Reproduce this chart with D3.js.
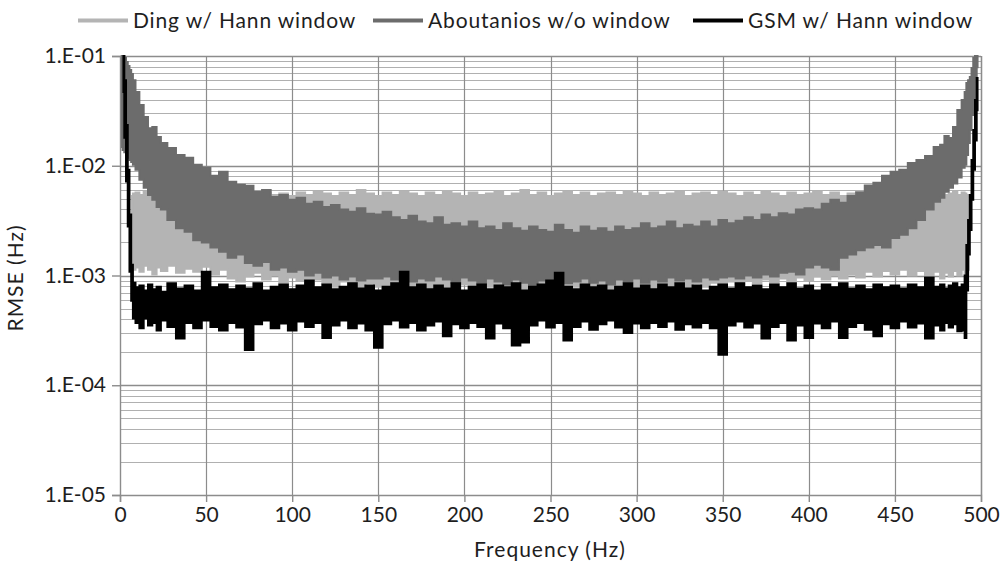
<!DOCTYPE html>
<html>
<head>
<meta charset="utf-8">
<script src="https://cdnjs.cloudflare.com/ajax/libs/d3/7.8.5/d3.min.js"></script>
<style>
body { margin: 0; background: #fff; }
svg { display: block; font-family: Lato, "Open Sans", sans-serif; }
</style>
</head>
<body>
<svg></svg>
<script>
// frequency grid (Hz), finer near the two ends
const freq = [1,2,3,4,5,6,7,8,10,12.5,
  15,17.5,20,22.5,25,30,35,40,45,50,
  55,60,65,70,75,80,85,90,95,100,
  105,110,115,120,125,130,135,140,145,150,
  155,160,165,170,175,180,185,190,195,200,
  205,210,215,220,225,230,235,240,245,250,
  255,260,265,270,275,280,285,290,295,300,
  305,310,315,320,325,330,335,340,345,350,
  355,360,365,370,375,380,385,390,395,400,
  405,410,415,420,425,430,435,440,445,450,
  455,460,465,470,475,477.5,480,482.5,485,487.5,
  490,491,492,493,494,495,496,497,498,499];

// Ding w/ Hann window : upper / lower edge of the band (RMSE, Hz)
const dingHi = [null,null,null,null,null,null,0.0053,0.0056,0.0057,0.0054,
  0.0058,0.0053,0.0056,0.0057,0.0052,0.0056,0.0054,0.0058,0.0053,0.0056,
  0.0057,0.0054,0.0052,0.0056,0.0058,0.0053,0.0057,0.0054,0.0056,0.0053,
  0.0057,0.0054,0.0058,0.0056,0.0053,0.0057,0.0054,0.0060,0.0056,0.0053,
  0.0057,0.0054,0.0058,0.0056,0.0053,0.0057,0.0054,0.0059,0.0056,0.0053,
  0.0057,0.0054,0.0056,0.0058,0.0053,0.0056,0.0060,0.0054,0.0057,0.0053,
  0.0056,0.0058,0.0054,0.0057,0.0053,0.0056,0.0057,0.0054,0.0059,0.0056,
  0.0053,0.0057,0.0054,0.0056,0.0058,0.0053,0.0056,0.0057,0.0054,0.0058,
  0.0056,0.0053,0.0057,0.0054,0.0059,0.0056,0.0053,0.0057,0.0054,0.0056,
  0.0058,0.0054,0.0057,0.0053,0.0056,0.0058,0.0054,0.0057,0.0056,0.0053,
  0.0057,0.0054,0.0058,0.0056,0.0053,0.0057,0.0054,0.0056,0.0058,0.0054,
  0.0057,0.0056,0.0053,0.0054,null,null,null,null,null,null];
const dingLo = [null,null,null,null,null,null,0.00125,0.00113,0.00118,0.00108,
  0.00123,0.00113,0.00102,0.00118,0.0011,0.00123,0.00106,0.00115,0.00108,0.0012,
  0.00102,0.00113,0.00094,0.00088,0.00098,0.00106,0.00092,0.0010,0.00086,0.00096,
  0.0009,0.00083,0.00092,0.00085,0.00079,0.00088,0.00081,0.00076,0.00085,0.00079,
  0.00075,0.00083,0.00078,0.00073,0.00081,0.00076,0.00071,0.00079,0.00075,0.00083,
  0.00076,0.00071,0.00079,0.00075,0.0007,0.00078,0.00073,0.00081,0.00075,0.0007,
  0.00078,0.00073,0.00079,0.00075,0.0007,0.00078,0.00073,0.00081,0.00076,0.00071,
  0.00079,0.00075,0.00081,0.00076,0.00083,0.00078,0.00085,0.00079,0.00086,0.00081,
  0.00088,0.00083,0.0009,0.00085,0.00092,0.00086,0.00094,0.00088,0.00096,0.0009,
  0.00098,0.00092,0.0010,0.00094,0.00102,0.00096,0.00108,0.00098,0.0011,0.00102,
  0.00113,0.0010,0.0011,0.00098,0.00108,0.00094,0.00106,0.00098,0.0011,0.0010,
  0.00113,0.00102,0.00108,0.00113,null,null,null,null,null,null];

// Aboutanios w/o window
const abouHi = [0.1,0.1,0.096,0.088,0.081,0.0745,0.0685,0.060,0.047,0.0357,
  0.0278,0.022,0.0225,0.0183,0.0161,0.0145,0.0125,0.0118,0.0102,0.0096,
  0.0081,0.0088,0.00715,0.0067,0.00657,0.0058,0.0060,0.0052,0.0054,0.0049,
  0.0051,0.0045,0.0047,0.0042,0.0044,0.0040,0.0038,0.0041,0.00365,0.0036,
  0.0038,0.0034,0.0032,0.0035,0.0031,0.0030,0.0034,0.0029,0.0030,0.0028,
  0.0031,0.0027,0.0028,0.0026,0.0030,0.0027,0.00256,0.0028,0.0026,0.0025,
  0.0029,0.0026,0.00245,0.0028,0.00256,0.0027,0.0025,0.0028,0.0026,0.0027,
  0.0030,0.0027,0.0028,0.0031,0.0027,0.0029,0.0028,0.0031,0.0028,0.0032,
  0.0030,0.00315,0.0034,0.0032,0.0036,0.0034,0.0037,0.0036,0.0040,0.0041,
  0.0040,0.0045,0.0049,0.0046,0.0053,0.0057,0.0066,0.0070,0.0081,0.0088,
  0.0092,0.0106,0.0113,0.0123,0.0148,0.0155,0.0187,0.0179,0.0225,0.0322,
  0.0397,0.047,0.0567,0.060,0.0643,0.0777,0.096,0.1,0.1,null];
const abouLo = [0.0148,0.0139,0.0133,0.0125,0.0118,0.0113,0.0108,0.0102,0.0092,0.00745,
  0.0063,0.0054,0.0049,0.0042,0.0040,0.0032,0.0027,0.0025,0.0021,0.0020,
  0.0018,0.00165,0.00145,0.00155,0.0013,0.00123,0.00133,0.00113,0.00118,0.00108,
  0.00113,0.0010,0.00106,0.00096,0.0010,0.00092,0.00098,0.0009,0.00094,0.00094,
  0.00098,0.00092,0.00096,0.00088,0.00094,0.0009,0.00098,0.00092,0.00086,0.00096,
  0.0009,0.00085,0.00094,0.00088,0.00083,0.00092,0.00086,0.00081,0.0009,0.00086,
  0.00092,0.00085,0.00088,0.00094,0.00086,0.0009,0.00083,0.00092,0.00088,0.00094,
  0.00086,0.00092,0.00088,0.00096,0.0009,0.00094,0.00088,0.00096,0.00092,0.00096,
  0.00098,0.00094,0.0010,0.00096,0.00102,0.00098,0.00106,0.00108,0.00102,0.00118,
  0.00125,0.00118,0.00113,0.00145,0.00155,0.0017,0.0018,0.0019,0.0018,0.0022,
  0.00235,0.0027,0.0032,0.0040,0.0047,0.0051,0.0058,0.0063,0.0069,0.0078,
  0.0096,0.0102,0.0125,0.0161,0.0212,0.029,0.0397,0.058,0.079,null];

// GSM w/ Hann window
const gsmHi = [null,0.1,0.060,0.0235,0.0092,0.0036,0.00125,0.00086,0.00078,0.00081,
  0.00073,0.00083,0.00075,0.00079,0.00071,0.00085,0.00076,0.00081,0.00073,0.00108,
  0.00078,0.00083,0.00075,0.00081,0.00076,0.00085,0.00073,0.00079,0.00083,0.00075,
  0.00081,0.0009,0.00078,0.00083,0.00075,0.00079,0.00085,0.00076,0.00081,0.00073,
  0.00079,0.00085,0.00108,0.00078,0.00083,0.00075,0.00081,0.00076,0.00085,0.00073,
  0.00079,0.00083,0.00075,0.00081,0.00078,0.00085,0.00073,0.00079,0.00083,0.0009,
  0.00106,0.00079,0.00075,0.00083,0.00078,0.00081,0.00073,0.00079,0.00085,0.00076,
  0.00081,0.00075,0.00083,0.00078,0.00085,0.00076,0.00081,0.00073,0.00079,0.00083,
  0.00076,0.00085,0.00078,0.00081,0.00075,0.00083,0.00078,0.00085,0.00076,0.00081,
  0.00073,0.00083,0.00078,0.00085,0.00076,0.00081,0.00075,0.00083,0.00078,0.00081,
  0.00076,0.00083,0.00078,0.00096,0.00079,0.00083,0.00076,0.00081,0.00085,0.00078,
  0.00083,0.0010,0.0019,0.0032,0.0054,0.0113,0.0212,0.0397,0.063,null];
const gsmLo = [null,0.047,0.018,0.0072,0.0028,0.00108,0.00059,0.000405,0.00037,0.00033,
  0.000405,0.00035,0.00037,0.000315,0.00039,0.00034,0.000266,0.00037,0.00033,0.00039,
  0.00034,0.000315,0.00037,0.000336,0.00021,0.00036,0.00039,0.00033,0.000365,0.000315,
  0.00038,0.00034,0.00037,0.00027,0.00035,0.00039,0.00033,0.000365,0.000315,0.00022,
  0.00036,0.00039,0.000336,0.00037,0.000315,0.00035,0.00038,0.00028,0.00036,0.00033,
  0.00037,0.00034,0.000266,0.000365,0.00033,0.00023,0.000245,0.00035,0.00039,0.000336,
  0.00037,0.000256,0.00034,0.00038,0.00032,0.00036,0.00039,0.000336,0.0003,0.000365,
  0.00033,0.00037,0.00034,0.00038,0.00032,0.00036,0.000336,0.00037,0.00033,0.00019,
  0.00035,0.00038,0.000336,0.000365,0.000266,0.00034,0.00037,0.000256,0.00035,0.00027,
  0.000365,0.00033,0.00038,0.00027,0.00034,0.00037,0.00032,0.00028,0.00036,0.00033,
  0.00038,0.000336,0.000365,0.000266,0.00035,0.000315,0.00037,0.000336,0.00036,0.00031,
  0.000315,0.00027,0.00073,0.00155,0.0026,0.0049,0.0092,0.017,0.032,null];

const seriesNames = ["Ding w/ Hann window", "Aboutanios w/o window", "GSM w/ Hann window"];
const seriesColors = ["#b4b4b4", "#6c6c6c", "#000000"];
const xTicks = [0,50,100,150,200,250,300,350,400,450,500];
const yTicks = [1e-1,1e-2,1e-3,1e-4,1e-5];
const yTickLabels = ["1.E-01","1.E-02","1.E-03","1.E-04","1.E-05"];

const width = 1002, height = 567;
const svg = d3.select("svg").attr("width", width).attr("height", height);

const x = d3.scaleLinear().domain([0, 500]).range([120, 981]);
const y = d3.scaleLog().domain([1e-5, 1e-1]).range([495, 56]);

// minor log grid (2..9 of each decade)
let minor = [];
yTicks.slice(1).forEach(d => { for (let m = 2; m <= 9; m++) minor.push(d * m); });

let grid = svg.append("g");
grid.selectAll("line.minor").data(minor).enter().append("line")
    .attr("x1", 120).attr("x2", 981)
    .attr("y1", d => Math.round(y(d)) + 0.5).attr("y2", d => Math.round(y(d)) + 0.5)
    .attr("stroke", "#b0b0b0").attr("stroke-width", 1.2);
grid.selectAll("line.vert").data(xTicks.slice(1)).enter().append("line")
    .attr("x1", d => Math.round(x(d)) + 0.5).attr("x2", d => Math.round(x(d)) + 0.5)
    .attr("y1", 56).attr("y2", 495)
    .attr("stroke", "#8c8c8c").attr("stroke-width", 1.2);
grid.selectAll("line.major").data(yTicks.slice(0, 4)).enter().append("line")
    .attr("x1", 120).attr("x2", 981)
    .attr("y1", d => Math.round(y(d)) + 0.5).attr("y2", d => Math.round(y(d)) + 0.5)
    .attr("stroke", "#8c8c8c").attr("stroke-width", 1.4);

// series bands
const bands = [[dingHi, dingLo], [abouHi, abouLo], [gsmHi, gsmLo]];
let plot = svg.append("g");
bands.forEach((b, k) => {
  let pts = freq.map((f, i) => ({f: f, hi: b[0][i], lo: b[1][i]}));
  let area = d3.area()
      .defined(d => d.hi != null && d.lo != null)
      .curve(d3.curveStep)
      .x(d => x(d.f))
      .y0(d => y(d.lo))
      .y1(d => y(d.hi));
  plot.append("path")
      .attr("d", area(pts))
      .attr("fill", seriesColors[k])
      .attr("stroke", seriesColors[k])
      .attr("stroke-width", 2)
      .attr("stroke-linejoin", "miter");
});

// axes
let yAxis = svg.append("g").attr("transform", "translate(120,0)")
    .call(d3.axisLeft(y).tickValues(yTicks).tickFormat((d, i) => yTickLabels[i])
      .tickSize(8).tickPadding(6));
let xAxis = svg.append("g").attr("transform", "translate(0,495)")
    .call(d3.axisBottom(x).tickValues(xTicks).tickSize(7).tickPadding(5));
[yAxis, xAxis].forEach(a => {
  a.select(".domain").attr("stroke", "#8c8c8c").attr("stroke-width", 1.4);
  a.selectAll(".tick line").attr("stroke", "#8c8c8c").attr("stroke-width", 1.4);
  a.selectAll("text").attr("font-size", 21).attr("fill", "#1e1e1e")
      .attr("font-family", "Lato, sans-serif");
});
// right border of plot area
svg.append("line").attr("x1", 981.5).attr("x2", 981.5).attr("y1", 56).attr("y2", 495)
    .attr("stroke", "#8c8c8c").attr("stroke-width", 1.4);

// axis titles
svg.append("text").attr("x", 550).attr("y", 557).attr("text-anchor", "middle")
    .attr("font-size", 21).attr("letter-spacing", 1).attr("fill", "#1e1e1e")
    .text("Frequency (Hz)");
svg.append("text").attr("transform", "translate(23,278) rotate(-90)")
    .attr("text-anchor", "middle").attr("font-size", 21).attr("letter-spacing", 1)
    .attr("fill", "#1e1e1e").text("RMSE (Hz)");

// legend
const legendX = [78, 373, 693];
let legend = svg.append("g");
seriesNames.forEach((name, i) => {
  legend.append("line").attr("x1", legendX[i]).attr("x2", legendX[i] + 50)
      .attr("y1", 20.5).attr("y2", 20.5)
      .attr("stroke", seriesColors[i]).attr("stroke-width", 4);
  legend.append("text").attr("x", legendX[i] + 55).attr("y", 27.5)
      .attr("font-size", 21).attr("letter-spacing", 0.85).attr("fill", "#1e1e1e")
      .text(name);
});
</script>
</body>
</html>
